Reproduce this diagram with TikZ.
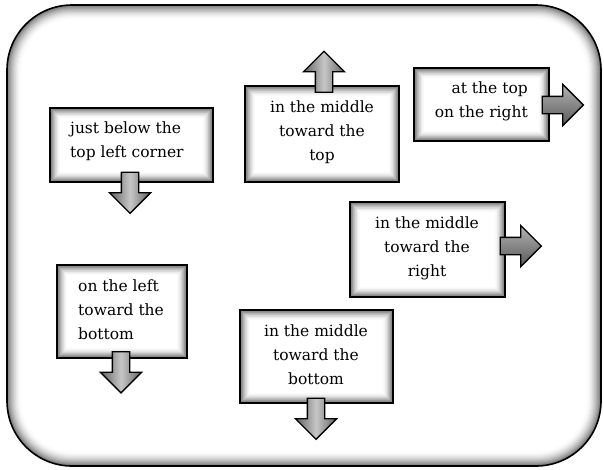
\documentclass[tikz,border=0pt]{standalone}
\usepackage{fontspec}
\setmainfont{DejaVu Serif}
\usetikzlibrary{shapes.arrows}
\tikzset{
  glowbox/.style={draw=black, line width=1.2pt, inner sep=0pt,
    path picture={
      \foreach \i/\c in {0/58,1/52,2/46,3/40,4/35,5/30,6/25,7/21,8/17,9/14,10/11,11/8,12/6,13/4,14/2,15/1,16/0}{
        \fill[black!\c] ([shift={({\i*0.65pt},{\i*0.65pt})}]path picture bounding box.south west)
          rectangle ([shift={({-\i*0.65pt},{-\i*0.65pt})}]path picture bounding box.north east);
      }}},
  txt/.style={inner sep=0pt, font=\fontsize{15.5}{24}\selectfont},
  arr/.style={single arrow, draw=black, line width=1.3pt, inner sep=8pt,
    single arrow head extend=12pt, minimum height=41pt},
  downarr/.style={arr, shape border rotate=270, left color=black!62, right color=black!62, middle color=black!22},
  uparr/.style={arr, shape border rotate=90, left color=black!62, right color=black!62, middle color=black!22},
  rightarr/.style={arr, top color=black!30, bottom color=black!65},
}
\begin{document}
\begin{tikzpicture}[x=1pt, y=-1pt]
\useasboundingbox (0,0) rectangle (604,469);
\fill[white] (0,0) rectangle (604,469);
% outer frame with inner glow
\foreach \i/\c in {0/55,1/47,2/40,3/34,4/28,5/23,6/18,7/14,8/10,9/7,10/4,11/2,12/1,13/0}{
  \pgfmathsetmacro\rr{65-1.1*\i}
  \fill[black!\c, rounded corners=\rr pt] ({7+1.1*\i},{5+1.1*\i}) rectangle ({601-1.1*\i},{466-1.1*\i});
}
\draw[line width=1.6pt, rounded corners=65pt] (7,5) rectangle (601,466);

% boxes
\node[glowbox, minimum width=163pt, minimum height=74pt] (b1) at (131.5,145) {};
\node[glowbox, minimum width=154pt, minimum height=96pt] (b2) at (322,134) {};
\node[glowbox, minimum width=135pt, minimum height=73pt] (b3) at (481.5,104.5) {};
\node[glowbox, minimum width=155pt, minimum height=95pt] (b4) at (427.5,249.5) {};
\node[glowbox, minimum width=130pt, minimum height=93pt] (b5) at (122,311.5) {};
\node[glowbox, minimum width=153pt, minimum height=93pt] (b6) at (316.5,356.5) {};

% texts
\node[txt, align=left, anchor=west] (t1) at (70,141) {just below the\\top left corner};
\node[txt, align=center] (t2) at (322,132) {in the middle\\toward the\\top};
\node[txt, align=right, anchor=east] (t3) at (528,101) {at the top\\on the right};
\node[txt, align=center] (t4) at (427,248) {in the middle\\toward the\\right};
\node[txt, align=left, anchor=west] (t5) at (78,310) {on the left\\toward the\\bottom};
\node[txt, align=center] (t6) at (316,354.5) {in the middle\\toward the\\bottom};

% arrows
\node[downarr] (a1) at (130,188.5) {};
\node[uparr] (a2) at (324,76) {};
\node[rightarr] (a3) at (558.5,105) {};
\node[rightarr] (a4) at (516.5,246) {};
\node[downarr] (a5) at (121,368) {};
\node[downarr] (a6) at (316,414.5) {};
\end{tikzpicture}
\end{document}
